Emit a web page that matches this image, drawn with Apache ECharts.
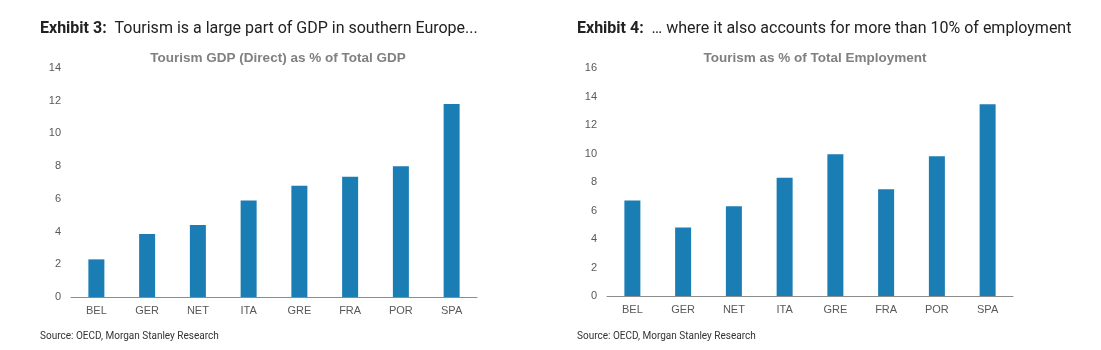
<!DOCTYPE html>
<html>
<head>
<meta charset="utf-8">
<script src="https://cdn.jsdelivr.net/npm/echarts@6/dist/echarts.min.js"></script>
<style>
  html, body { margin: 0; padding: 0; background: #fff; }
  #main { width: 1101px; height: 350px; }
</style>
</head>
<body>
<div id="main"></div>
<script>
// data
var countries = ['BEL', 'GER', 'NET', 'ITA', 'GRE', 'FRA', 'POR', 'SPA'];
var gdpShare = [2.3, 3.85, 4.4, 5.9, 6.8, 7.35, 8.0, 11.8];
var employmentShare = [6.7, 4.8, 6.3, 8.3, 9.95, 7.5, 9.8, 13.45];

var barColor = '#1a7db3';
var labelColor = '#595959';
var axisColor = '#8c8c8c';

function xAxisFor(idx) {
  return {
    type: 'category', gridIndex: idx, data: countries,
    axisLine: { lineStyle: { color: axisColor, width: 1 } },
    axisTick: { alignWithLabel: false, length: 5, lineStyle: { color: axisColor } },
    axisLabel: { color: labelColor, fontSize: 11, fontFamily: 'Liberation Sans', margin: 8 }
  };
}
function yAxisFor(idx, max) {
  return {
    type: 'value', gridIndex: idx, min: 0, max: max, interval: 2,
    axisLine: { show: false }, axisTick: { show: false },
    splitLine: { show: false },
    axisLabel: { color: labelColor, fontSize: 11, fontFamily: 'Liberation Sans', margin: 10 }
  };
}

var titleRich = {
  b: { fontFamily: 'Roboto', fontWeight: 'bold', fontSize: 16, color: '#222' },
  n: { fontFamily: 'Roboto', fontWeight: 'normal', fontSize: 16, color: '#222' }
};

var chart = echarts.init(document.getElementById('main'));
chart.setOption({
  backgroundColor: '#fff',
  animation: false,
  title: [
    { text: '{b|Exhibit 3:}{n|  Tourism is a large part of GDP in southern Europe...}', left: 35, top: 16, textStyle: { fontWeight: 'normal', rich: titleRich } },
    { text: '{b|Exhibit 4:}{n|  … where it also accounts for more than 10% of employment}', left: 572, top: 16, textStyle: { fontWeight: 'normal', rich: titleRich } },
    { text: 'Tourism GDP (Direct) as % of Total GDP', left: 273, top: 46, textAlign: 'center',
      textStyle: { fontFamily: 'Liberation Sans', fontWeight: 'bold', fontSize: 13.5, color: '#808080' } },
    { text: 'Tourism as % of Total Employment', left: 810, top: 46, textAlign: 'center',
      textStyle: { fontFamily: 'Liberation Sans', fontWeight: 'bold', fontSize: 13.5, color: '#808080' } },
    { text: 'Source: OECD, Morgan Stanley Research', left: 35, top: 326,
      textStyle: { fontFamily: 'Roboto', fontWeight: 'normal', fontSize: 10, color: '#333' } },
    { text: 'Source: OECD, Morgan Stanley Research', left: 572, top: 326,
      textStyle: { fontFamily: 'Roboto', fontWeight: 'normal', fontSize: 10, color: '#333' } }
  ],
  grid: [
    { left: 71, right: 624, top: 68, bottom: 53 },
    { left: 607, right: 88, top: 68, bottom: 54 }
  ],
  xAxis: [xAxisFor(0), xAxisFor(1)],
  yAxis: [yAxisFor(0, 14), yAxisFor(1, 16)],
  series: [
    { type: 'bar', xAxisIndex: 0, yAxisIndex: 0, data: gdpShare, barWidth: 16,
      itemStyle: { color: barColor } },
    { type: 'bar', xAxisIndex: 1, yAxisIndex: 1, data: employmentShare, barWidth: 16,
      itemStyle: { color: barColor } }
  ]
});
</script>
</body>
</html>
